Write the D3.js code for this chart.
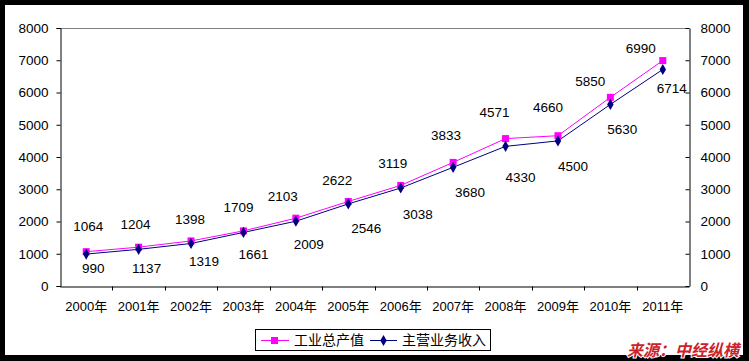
<!DOCTYPE html>
<html><head><meta charset="utf-8">
<script src="https://cdn.jsdelivr.net/npm/d3@7"></script>
<style>body{margin:0;background:#000;}svg{display:block;}</style>
</head><body>
<svg id="c" width="749" height="361"></svg>
<script>
const categories = ["2000年","2001年","2002年","2003年","2004年","2005年","2006年","2007年","2008年","2009年","2010年","2011年"];
const output = [1064,1204,1398,1709,2103,2622,3119,3833,4571,4660,5850,6990];
const revenue = [990,1137,1319,1661,2009,2546,3038,3680,4330,4500,5630,6714];
const yTicks = [0,1000,2000,3000,4000,5000,6000,7000,8000];
const seriesNames = ["工业总产值","主营业务收入"];
const sourceText = "来源：中经纵横";

// label nudges (layout only)
const outNudge = [[2,-25],[-3,-23],[-1,-22],[-5,-24],[-13,-22],[-11,-21],[-8,-22],[-7,-27],[-11,-26],[-10,-28],[-20,-16],[-22,-12]];
const revNudge = [[7,14],[8,19],[13,18],[10,22],[13,23],[18,24],[17,26],[17,25],[15,31],[15,25],[12,25],[9,19]];

const svg = d3.select("#c");
svg.append("rect").attr("x",0).attr("y",0).attr("width",749).attr("height",361).attr("fill","#000");
svg.append("rect").attr("x",5).attr("y",5).attr("width",738).attr("height",350).attr("fill","#fff");

const L=60, R=689, T=28, B=286;
const x = d3.scaleBand().domain(categories).range([L,R]);
const y = d3.scaleLinear().domain([0,8000]).range([B,T]);
const font = "Arial, 'Liberation Sans', sans-serif";

// top gray border
svg.append("line").attr("x1",L).attr("x2",R).attr("y1",T+0.5).attr("y2",T+0.5).attr("stroke","#808080");

const ax = svg.append("g").attr("font-family",font);
// left axis
const gl = ax.append("g").attr("transform",`translate(${L+0.5},0)`)
  .call(d3.axisLeft(y).tickValues(yTicks).tickSize(4).tickPadding(8).tickFormat(d3.format("d")));
// right axis
const gr = ax.append("g").attr("transform",`translate(${R+0.5},0)`)
  .call(d3.axisRight(y).tickValues(yTicks).tickSizeInner(-4).tickSizeOuter(0).tickPadding(11).tickFormat(d3.format("d")));
// bottom axis
const gb = ax.append("g").attr("transform",`translate(0,${B+0.5})`)
  .call(d3.axisBottom(x).tickSize(0).tickPadding(15));
// category boundary ticks
gb.selectAll("line.bt").data(categories.slice(1)).enter().append("line").attr("class","bt")
  .attr("x1",d=>Math.round(x(d))+0.5).attr("x2",d=>Math.round(x(d))+0.5).attr("y1",0).attr("y2",4).attr("stroke","#000");
[gl,gr,gb].forEach(g=>{
  g.selectAll(".domain").attr("stroke","#000");
  g.selectAll(".tick line").attr("stroke","#000");
  g.selectAll("text").attr("font-size","13.5px").attr("fill","#000").attr("font-family",font);
});
gb.selectAll("text").attr("font-size","13px").attr("font-family","Arial, 'Noto Sans CJK SC', sans-serif");

const cx = d => x(d)+x.bandwidth()/2;
const line = vals => d3.line().x((v,i)=>cx(categories[i])).y(v=>y(v))(vals);

svg.append("path").attr("d",line(output)).attr("fill","none").attr("stroke","#ff00ff").attr("stroke-width",1);
svg.append("path").attr("d",line(revenue)).attr("fill","none").attr("stroke","#000080").attr("stroke-width",1);

svg.selectAll("rect.m1").data(output).enter().append("rect").attr("class","m1")
  .attr("x",(v,i)=>cx(categories[i])-3.5).attr("y",v=>y(v)-3.5).attr("width",7).attr("height",7).attr("fill","#ff00ff");
const dia = d3.symbol().type(d3.symbolDiamond).size(36);
svg.selectAll("path.m2").data(revenue).enter().append("path").attr("class","m2")
  .attr("d",dia).attr("transform",(v,i)=>`translate(${cx(categories[i])},${y(v)})`).attr("fill","#000080");

const lab = svg.append("g").attr("font-family",font).attr("font-size","13.5px").attr("text-anchor","middle").attr("fill","#000");
lab.selectAll("text.l1").data(output).enter().append("text").attr("class","l1")
  .attr("x",(v,i)=>cx(categories[i])+outNudge[i][0]).attr("y",(v,i)=>y(v)+outNudge[i][1]).attr("dy","0.35em").text(v=>v);
lab.selectAll("text.l2").data(revenue).enter().append("text").attr("class","l2")
  .attr("x",(v,i)=>cx(categories[i])+revNudge[i][0]).attr("y",(v,i)=>y(v)+revNudge[i][1]).attr("dy","0.35em").text(v=>v);

// legend
const lg = svg.append("g");
lg.append("rect").attr("x",255.5).attr("y",329.5).attr("width",235).attr("height",21).attr("fill","#fff").attr("stroke","#000");
lg.append("line").attr("x1",261).attr("x2",289).attr("y1",340.5).attr("y2",340.5).attr("stroke","#ff00ff");
lg.append("rect").attr("x",271).attr("y",337).attr("width",7).attr("height",7).attr("fill","#ff00ff");
lg.append("text").attr("x",294).attr("y",340.5).attr("dy","0.35em").attr("font-size","14px")
  .attr("font-family","'Noto Sans CJK SC', sans-serif").text(seriesNames[0]);
lg.append("line").attr("x1",370).attr("x2",397).attr("y1",340.5).attr("y2",340.5).attr("stroke","#000080");
lg.append("path").attr("d",dia).attr("transform","translate(383.5,340.5)").attr("fill","#000080");
lg.append("text").attr("x",402).attr("y",340.5).attr("dy","0.35em").attr("font-size","14px")
  .attr("font-family","'Noto Sans CJK SC', sans-serif").text(seriesNames[1]);

// source
svg.append("text").attr("x",739).attr("y",350).attr("dy","0.35em").attr("text-anchor","end")
  .attr("font-size","16px").attr("font-weight","bold").attr("font-style","italic")
  .attr("font-family","'Noto Sans CJK SC', sans-serif").attr("fill","#cc2229")
  .attr("stroke","#fff").attr("stroke-width",2).attr("paint-order","stroke").text(sourceText);
</script>
</body></html>
